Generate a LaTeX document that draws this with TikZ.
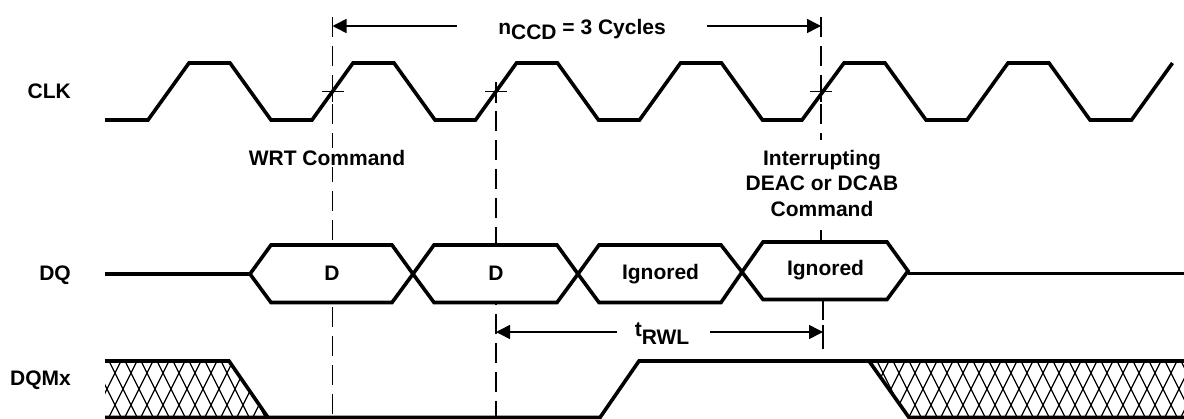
\documentclass[tikz,border=0pt]{standalone}
\usepackage{fontspec}
\setmainfont{Liberation Sans}
\usetikzlibrary{arrows.meta}
\begin{document}
\begin{tikzpicture}[x=1pt,y=-1pt,
  sig/.style={line width=3.6pt},
  guide/.style={line width=1.5pt, dash pattern=on 20pt off 9pt},
  thinline/.style={line width=1.5pt},
  arr/.style={line width=1.5pt, -{Triangle[length=14pt,width=14pt]}},
  hatchline/.style={line width=1.3pt},
  lbl/.style={font=\fontsize{21}{25}\selectfont\bfseries, inner sep=0pt}]
\useasboundingbox (0,0) rectangle (1184,418);
\fill[white] (0,0) rectangle (1184,418);

% guide lines
\draw[guide] (332.5,17) -- (332.5,418);
\draw[guide] (496,82) -- (496,418);
\draw[guide] (821,17) -- (821,140);
\draw[thinline] (332.5,81) -- (332.5,102);
\draw[thinline] (496,82) -- (496,103);
\draw[thinline] (821,81) -- (821,102);
\draw[thinline] (821,230) -- (821,242);
\draw[thinline] (823,300) -- (823,320);
\draw[thinline] (823,325) -- (823,349);
% cross ticks
\draw[thinline] (321.5,91.5) -- (343.5,91.5);
\draw[thinline] (485,91.5) -- (507,91.5);
\draw[thinline] (810,91.5) -- (832,91.5);

% CLK
\draw[sig] (105,120) -- (148,120) -- (189,63) -- (230,63) -- (271,120) -- (312,120) -- (353,63) -- (394,63) -- (435,120) -- (475.5,120) -- (516.5,63) -- (557.5,63) -- (598.5,120) -- (639.5,120) -- (680.5,63) -- (721.5,63) -- (762.5,120) -- (802,120) -- (844,63) -- (885,63) -- (926,120) -- (967,120) -- (1008,63) -- (1049,63) -- (1090,120) -- (1131.5,120) -- (1172.5,63);

% DQ
\draw[sig] (105,274) -- (250,274);
\draw[sig] (908,273.5) -- (1184,273.5);
\draw[sig, fill=white] (250,274) -- (271,245) -- (392,245) -- (413,274) -- (392,302.5) -- (271,302.5) -- cycle;
\draw[sig, fill=white] (413,274) -- (434,245) -- (557,245) -- (578,274) -- (557,302.5) -- (434,302.5) -- cycle;
\draw[sig, fill=white] (578,274) -- (599,245) -- (721,245) -- (742,272) -- (721,302.5) -- (599,302.5) -- cycle;
\draw[sig, fill=white] (742,272) -- (763,242) -- (887,242) -- (908,271) -- (887,299.5) -- (763,299.5) -- cycle;

% DQMx hatch
\begin{scope}
\clip (105,361) -- (229,361) -- (268,417.5) -- (105,417.5) -- cycle
      (869,361) -- (1184,361) -- (1184,417.5) -- (909,417.5) -- cycle;
\foreach \k in {-4,...,70} {
  \pgfmathsetmacro\a{107+16*\k}
  \draw[hatchline] (\a-8.5,340) -- (\a+34,425);
  \draw[hatchline] (\a+8.5,340) -- (\a-34,425);
}
\end{scope}
\draw[sig] (105,361) -- (229,361) -- (268,417.5);
\draw[sig] (105,417.5) -- (600,417.5) -- (639,361) -- (1184,361);
\draw[sig] (869,361) -- (909,417.5) -- (1184,417.5);

% labels
\node[lbl, anchor=base east] (clk) at (71,98) {CLK};
\node[lbl, anchor=base east] (dq) at (71,280) {DQ};
\node[lbl, anchor=base east] (dqm) at (71,385) {DQMx};
\node[lbl, anchor=base, fill=white, inner sep=1.5pt] (wrt) at (327,165) {WRT Command};
\node[lbl, anchor=base] (int1) at (822,165) {Interrupting};
\node[lbl, anchor=base] (int2) at (822,190.5) {DEAC or DCAB};
\node[lbl, anchor=base] (int3) at (822,216) {Command};
\node[lbl, anchor=base] (d1) at (332,280.5) {D};
\node[lbl, anchor=base] (d2) at (496,280.5) {D};
\node[lbl, anchor=base] (ig1) at (660.5,279) {Ignored};
\node[lbl, anchor=base] (ig2) at (825.5,275) {Ignored};

% n_CCD
\node[lbl, anchor=base] (nccd) at (582,34) {n\raisebox{-5.5pt}{CCD} = 3 Cycles};
\coordinate (nccdL) at (457,26);
\coordinate (nccdR) at (707,26);
\coordinate (a1) at (332.5,26);
\coordinate (a3) at (821,26);
\draw[arr] (nccdL) -- (a1);
\draw[arr] (nccdR) -- (a3);

% t_RWL
\node[lbl, anchor=base] (trwl) at (662,336.5) {t\raisebox{-7.5pt}{RWL}};
\coordinate (tL) at (617,332);
\coordinate (tR) at (710,332);
\coordinate (b2) at (496,332);
\coordinate (b3) at (823,332);
\draw[arr] (tL) -- (b2);
\draw[arr] (tR) -- (b3);
\end{tikzpicture}
\end{document}
